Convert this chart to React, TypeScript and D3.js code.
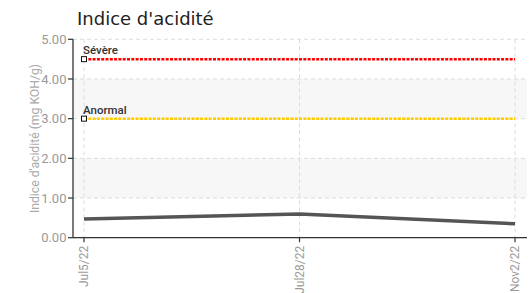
import React from "react";
import * as d3 from "d3";

const categories = ["Jul5/22", "Jul28/22", "Nov2/22"];
const values = [0.47, 0.6, 0.35];
const yTicks = [0, 1, 2, 3, 4, 5];
const thresholds = [
  { label: "Sévère", value: 4.5, color: "#ff0000" },
  { label: "Anormal", value: 3.0, color: "#ffcc00" },
];
const bands = [
  [1, 2],
  [3, 4],
];

const W = 530;
const H = 293;
const left = 73;
const right = 527;
const top = 39.3;
const bottom = 237.7;

export default function App() {
  const x = d3.scalePoint<string>().domain(categories).range([84, 515]);
  const y = d3.scaleLinear().domain([0, 5]).range([bottom, top]);
  const line = d3
    .line<number>()
    .x((_, i) => x(categories[i]) as number)
    .y((d) => y(d));
  const font = "Roboto, 'Liberation Sans', sans-serif";
  return (
    <svg
      width={W}
      height={H}
      style={{ position: "absolute", left: 0, top: 0 }}
    >
      <rect x={0} y={0} width={W} height={H} fill="#fff" />
      {bands.map(([a, b], i) => (
        <rect
          key={i}
          x={left}
          y={y(b)}
          width={right - left}
          height={y(a) - y(b)}
          fill="#f7f7f7"
        />
      ))}
      {yTicks.map((t) => (
        <line
          key={t}
          x1={left}
          x2={right}
          y1={y(t)}
          y2={y(t)}
          stroke="#dcdcdc"
          strokeDasharray="4,3"
        />
      ))}
      {categories.map((c) => (
        <line
          key={c}
          x1={x(c)}
          x2={x(c)}
          y1={top}
          y2={bottom}
          stroke="#dcdcdc"
          strokeDasharray="4,3"
        />
      ))}
      <text
        x={77}
        y={25}
        fontFamily="'DejaVu Sans', sans-serif"
        fontSize={18}
        fill="#222"
      >
        Indice d'acidité
      </text>
      {thresholds.map((t) => (
        <g key={t.label}>
          <line
            x1={x(categories[0])}
            x2={x(categories[categories.length - 1])}
            y1={y(t.value)}
            y2={y(t.value)}
            stroke={t.color}
            strokeWidth={2.5}
            strokeDasharray="3,1.3"
          />
          <rect
            x={(x(categories[0]) as number) - 2.5}
            y={y(t.value) - 2.5}
            width={5}
            height={5}
            fill="#fff"
            stroke="#111"
            strokeWidth={1}
          />
          <text
            x={83}
            y={y(t.value) - 5}
            fontFamily={font}
            fontSize={11.5}
            fontWeight={500}
            fill="#333"
          >
            {t.label}
          </text>
        </g>
      ))}
      <path
        d={line(values) || ""}
        fill="none"
        stroke="#555"
        strokeWidth={3.5}
      />
      <line x1={left} x2={left} y1={top} y2={bottom} stroke="#333" strokeWidth={1.3} />
      <line x1={left} x2={right} y1={bottom} y2={bottom} stroke="#333" strokeWidth={1.3} />
      {yTicks.map((t) => (
        <g key={t}>
          <line x1={68} x2={left} y1={y(t)} y2={y(t)} stroke="#333" strokeWidth={1.2} />
          <text
            x={66.5}
            y={y(t)}
            dy="0.35em"
            textAnchor="end"
            fontFamily={font}
            fontSize={13}
            fill="#999"
          >
            {t.toFixed(2)}
          </text>
        </g>
      ))}
      {categories.map((c) => (
        <g key={c} transform={`translate(${x(c)},${bottom})`}>
          <line y1={0} y2={4.5} stroke="#333" strokeWidth={1.2} />
          <text
            transform="rotate(-90)"
            x={-8}
            y={0}
            dy="0.35em"
            textAnchor="end"
            fontFamily={font}
            fontSize={12}
            fill="#999"
          >
            {c}
          </text>
        </g>
      ))}
      <text
        transform={`translate(35,${(top + bottom) / 2}) rotate(-90)`}
        textAnchor="middle"
        dy="0.35em"
        fontFamily={font}
        fontSize={12.2}
        fill="#aaa"
      >
        Indice d'acidité (mg KOH/g)
      </text>
    </svg>
  );
}
